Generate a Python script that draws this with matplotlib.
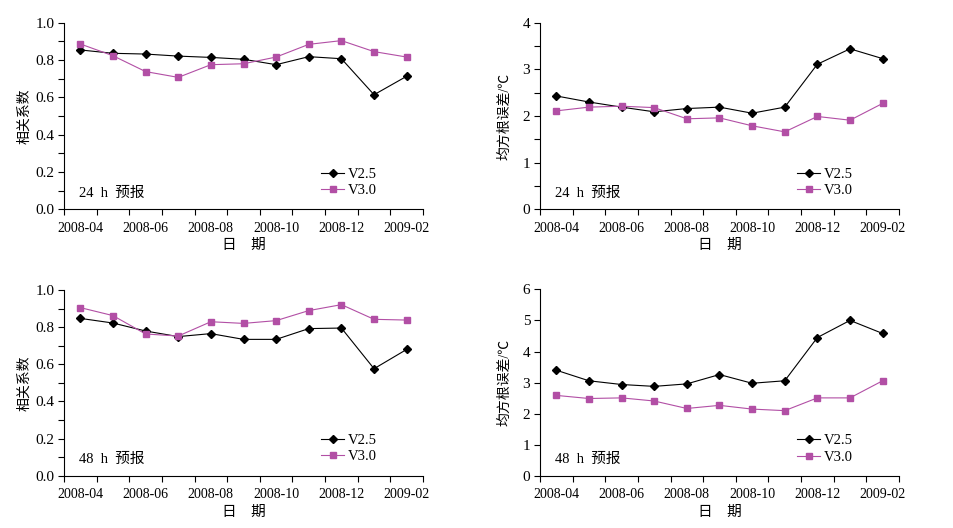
import matplotlib.pyplot as plt
from matplotlib.ticker import MultipleLocator, FixedLocator
from matplotlib.transforms import blended_transform_factory
import numpy as np

plt.rcParams['font.family'] = ['Liberation Serif', 'Noto Sans CJK SC']

months = ['2008-04', '2008-05', '2008-06', '2008-07', '2008-08', '2008-09',
          '2008-10', '2008-11', '2008-12', '2009-01', '2009-02']

# 24 h forecast
corr24_v25 = [0.854, 0.836, 0.832, 0.821, 0.814, 0.804, 0.775, 0.818, 0.807, 0.614, 0.713]
corr24_v30 = [0.886, 0.823, 0.738, 0.707, 0.775, 0.780, 0.816, 0.884, 0.904, 0.845, 0.816]
rmse24_v25 = [2.43, 2.30, 2.19, 2.09, 2.16, 2.19, 2.06, 2.19, 3.11, 3.44, 3.23]
rmse24_v30 = [2.11, 2.19, 2.21, 2.18, 1.94, 1.96, 1.79, 1.66, 1.99, 1.91, 2.27]

# 48 h forecast
corr48_v25 = [0.847, 0.822, 0.779, 0.749, 0.765, 0.734, 0.734, 0.792, 0.795, 0.576, 0.680]
corr48_v30 = [0.905, 0.862, 0.763, 0.752, 0.829, 0.820, 0.835, 0.889, 0.921, 0.842, 0.838]
rmse48_v25 = [3.40, 3.06, 2.94, 2.88, 2.96, 3.26, 2.98, 3.06, 4.45, 5.00, 4.58]
rmse48_v30 = [2.59, 2.49, 2.51, 2.41, 2.17, 2.27, 2.15, 2.10, 2.51, 2.51, 3.06]

purple = '#B24FA5'


def panel(rect, v25, v30, ymax, ystep, ylabel_step, fmt, ylabel, note, ylabelpad):
    ax = fig.add_axes(rect)
    x = np.arange(len(months))
    ax.plot(x, v25, color='black', lw=0.8, marker='D', ms=4, label='V2.5')
    ax.plot(x, v30, color=purple, lw=0.8, marker='s', ms=4, label='V3.0')

    ax.set_xlim(-0.5, len(months) - 0.5)
    ax.set_ylim(0, ymax)

    # category boundaries as tick marks, labels every other month
    ax.xaxis.set_major_locator(FixedLocator(np.arange(-0.5, len(months), 1.0)))
    ax.xaxis.set_major_formatter(plt.NullFormatter())
    ax.xaxis.set_minor_locator(FixedLocator(x[::2]))
    ax.set_xticklabels(months[::2], minor=True)
    ax.tick_params(axis='x', which='major', direction='out', length=4, width=0.8)
    ax.tick_params(axis='x', which='minor', length=0, pad=9, labelsize=10)

    ticks = np.arange(0, ymax + ystep / 2, ystep)
    labels = []
    for v in ticks:
        if abs(v / ylabel_step - round(v / ylabel_step)) < 1e-6:
            labels.append(fmt.format(v))
        else:
            labels.append('')
    ax.set_yticks(ticks)
    ax.set_yticklabels(labels)
    ax.tick_params(axis='y', direction='out', length=4, width=0.8, labelsize=11, pad=3)

    for s in ['top', 'right']:
        ax.spines[s].set_visible(False)
    for s in ['left', 'bottom']:
        ax.spines[s].set_linewidth(0.8)

    ax.set_ylabel(ylabel, fontsize=10, labelpad=ylabelpad)
    ax.set_xlabel('日    期', fontsize=10.5, labelpad=3)
    trans = blended_transform_factory(ax.transData, ax.transAxes)
    ax.text(-0.05, 0.087, note, fontsize=10.5, ha='left', va='center', transform=trans)
    ax.legend(loc='lower left', bbox_to_anchor=(0.70, 0.035), frameon=False,
              fontsize=10.5, handlelength=1.6, handletextpad=0.2, labelspacing=0.2,
              borderaxespad=0)
    return ax


fig = plt.figure(figsize=(9.54, 5.28), dpi=100)

panel([0.0671, 0.6036, 0.3763, 0.3534], corr24_v25, corr24_v30, 1.0, 0.1, 0.2,
      '{:.1f}', '相关系数', '24  h  预报', 3)
panel([0.566, 0.6036, 0.3763, 0.3534], rmse24_v25, rmse24_v30, 4, 0.5, 1,
      '{:.0f}', '均方根误差/℃', '24  h  预报', 8)
panel([0.0671, 0.0991, 0.3763, 0.3517], corr48_v25, corr48_v30, 1.0, 0.1, 0.2,
      '{:.1f}', '相关系数', '48  h  预报', 3)
panel([0.566, 0.0985, 0.3763, 0.3536], rmse48_v25, rmse48_v30, 6, 1, 1,
      '{:.0f}', '均方根误差/℃', '48  h  预报', 8)

fig.savefig('out.png', dpi=100)
